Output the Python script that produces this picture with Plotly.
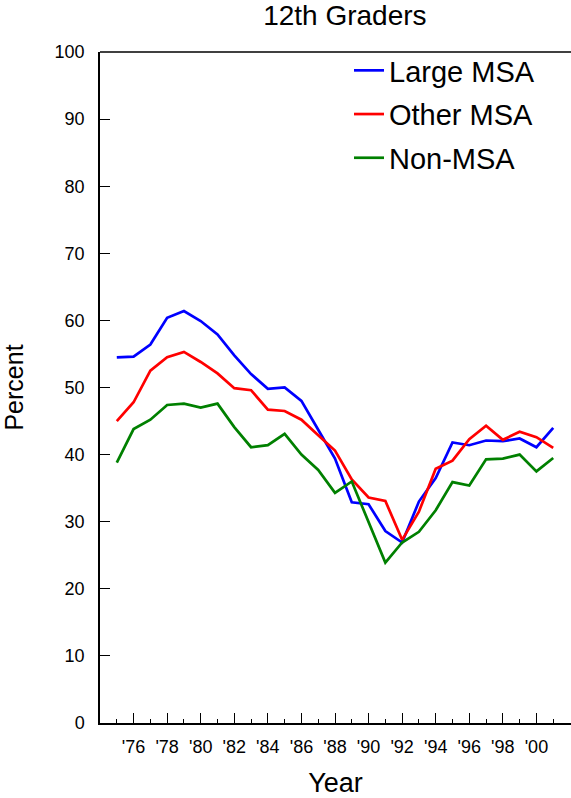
import plotly.graph_objects as go

years = list(range(1975, 2002))
large_msa = [54.5, 54.6, 56.4, 60.4, 61.4, 59.9, 57.9, 54.8, 52.0, 49.8, 50.0, 48.0, 43.7, 39.4,
             32.9, 32.6, 28.6, 26.9, 33.0, 36.5, 41.8, 41.4, 42.1, 42.0, 42.4, 41.1, 44.0]
other_msa = [45.0, 47.8, 52.5, 54.5, 55.3, 53.8, 52.1, 49.9, 49.6, 46.7, 46.5, 45.2, 42.9, 40.6,
             36.3, 33.6, 33.1, 27.3, 31.5, 37.9, 39.1, 42.3, 44.3, 42.2, 43.4, 42.6, 41.0]
non_msa = [38.8, 43.8, 45.2, 47.4, 47.6, 47.0, 47.6, 44.1, 41.1, 41.4, 43.1, 40.0, 37.7, 34.3,
           36.0, 30.0, 23.9, 26.9, 28.5, 31.7, 35.9, 35.4, 39.3, 39.4, 40.0, 37.5, 39.5]

series_names = ["Large MSA", "Other MSA", "Non-MSA"]
series_colors = ["#0000FF", "#FF0000", "#008000"]
major_years = list(range(1976, 2001, 2))
major_labels = ["'" + str(y)[2:] for y in major_years]
minor_years = list(range(1975, 2002, 2))
y_ticks = list(range(0, 101, 10))

FONT = "Liberation Sans, Arial, sans-serif"

fig = go.Figure()
for name, vals, col in zip(series_names, [large_msa, other_msa, non_msa], series_colors):
    fig.add_trace(go.Scatter(x=years, y=vals, mode="lines", name=name,
                             line=dict(color=col, width=2.7), legendgroup=name))

fig.update_layout(
    width=571, height=798,
    margin=dict(l=100, r=0, t=52, b=75, autoexpand=False),
    paper_bgcolor="white", plot_bgcolor="white",
    font=dict(family=FONT, color="black"),
    title=dict(text="12th Graders", font=dict(size=28, family=FONT, color="black"),
               xref="container", x=0.604, xanchor="center",
               yref="container", y=1 - 15 / 798, yanchor="middle"),
    showlegend=True,
    legend=dict(x=(349 - 100) / 471, xanchor="left", y=1 + 7 / 671, yanchor="top",
                font=dict(size=29, family=FONT, color="black"),
                bgcolor="rgba(0,0,0,0)", tracegroupgap=3, itemwidth=30),
    xaxis=dict(range=[1974.0, 2002.06], showgrid=False, zeroline=False, automargin=False,
               showline=True, linecolor="black", linewidth=1.5, mirror=False,
               tickmode="array", tickvals=major_years, ticktext=major_labels,
               ticks="inside", ticklen=10, tickwidth=1.2, tickcolor="black",
               ticklabelstandoff=7,
               tickfont=dict(size=18, family=FONT, color="black"),
               minor=dict(tickmode="array", tickvals=minor_years, ticks="inside",
                          ticklen=4, tickwidth=1.2, tickcolor="black", showgrid=False),
               title=dict(text="Year", font=dict(size=27, family=FONT, color="black"), standoff=18)),
    yaxis=dict(range=[0, 100], showgrid=False, zeroline=False, automargin=False,
               showline=True, linecolor="black", linewidth=1.5,
               tickmode="array", tickvals=y_ticks,
               ticks="inside", ticklen=10, tickwidth=1.2, tickcolor="black",
               ticklabelstandoff=10,
               tickfont=dict(size=18, family=FONT, color="black"),
               title=dict(text="Percent", font=dict(size=25, family=FONT, color="black"), standoff=32)),
)
fig.add_shape(type="line", xref="paper", yref="paper", x0=0, x1=1, y0=1, y1=1,
              line=dict(color="black", width=1.5))

fig.write_html("out.html", config={"displayModeBar": False},
               post_script="document.body.style.margin='0';")
